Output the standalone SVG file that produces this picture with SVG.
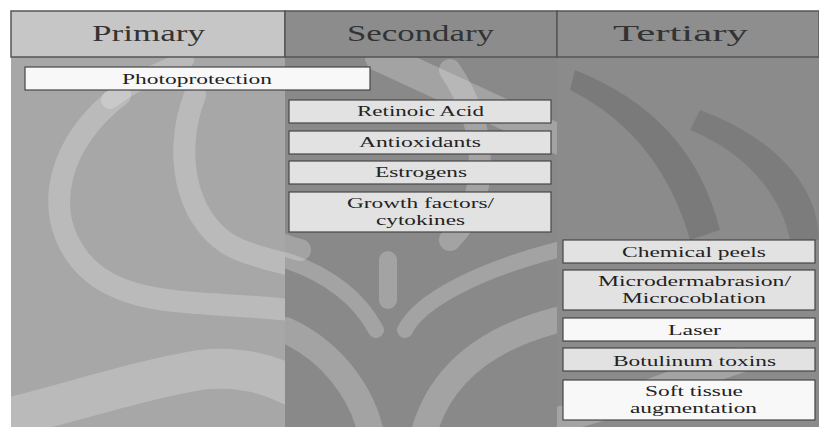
<svg xmlns="http://www.w3.org/2000/svg" width="819" height="429" viewBox="0 0 819 429">
<style>
.hd{font-family:'Liberation Serif','Times New Roman',serif;font-size:23px;fill:#333;text-anchor:middle}
.bx{fill:#e2e2e2;stroke:#474747;stroke-width:1.2}
.bw{fill:#f8f8f8;stroke:#474747;stroke-width:1.2}
.t{font-family:'Liberation Serif','Times New Roman',serif;font-size:15px;fill:#222;text-anchor:middle}
.wm{fill:none;stroke:#ffffff;stroke-opacity:0.22;stroke-linecap:round}
</style>
<defs>
<clipPath id="c1"><rect x="11" y="57" width="274" height="370"/></clipPath>
<clipPath id="c2"><rect x="285" y="57" width="272" height="370"/></clipPath>
<clipPath id="c3"><rect x="557" y="57" width="262" height="370"/></clipPath>
</defs>
<rect width="819" height="429" fill="#ffffff"/>
<g id="columns">
<rect x="11" y="57" width="274" height="370" fill="#a7a7a7"/>
<rect x="285" y="57" width="272" height="370" fill="#898989"/>
<rect x="557" y="57" width="262" height="370" fill="#8b8b8b"/>
</g>
<g id="watermark">
<g clip-path="url(#c1)">
<path class="wm" stroke-width="22" d="M120,95 C60,140 40,210 80,260 C120,310 200,300 290,310"/>
<path class="wm" stroke-width="22" d="M195,95 C170,160 190,230 240,250 C260,258 280,262 290,265"/>
<path class="wm" stroke-width="40" d="M0,420 C80,400 140,380 200,370 C240,365 270,375 290,385"/>
<path class="wm" stroke-width="18" d="M185,60 C150,75 130,85 110,100"/>
</g>
<g clip-path="url(#c2)">
<path class="wm" stroke-width="22" d="M240,100 C200,160 220,230 300,250"/>
<path class="wm" stroke-width="22" d="M450,70 C490,130 490,200 450,240"/>
<path class="wm" stroke-width="16" d="M285,260 C330,275 360,300 376,330"/>
<path class="wm" stroke-width="16" d="M557,250 C480,270 420,300 405,330"/>
<path class="wm" stroke-width="26" d="M285,330 C330,350 360,390 370,429"/>
<path class="wm" stroke-width="26" d="M557,320 C480,340 440,380 425,429"/>
<path class="wm" stroke-width="18" d="M388,260 L388,300"/>
<path class="wm" stroke-width="30" d="M380,57 L560,140"/>
</g>
<g clip-path="url(#c3)">
<path fill="#000" fill-opacity="0.12" d="M575,70 C650,100 700,150 720,230 L690,240 C670,170 630,120 570,90 Z"/>
<path fill="#000" fill-opacity="0.10" d="M700,110 C780,140 819,190 819,240 L790,240 C780,190 740,150 690,130 Z"/>
<path class="wm" stroke-width="26" d="M557,420 C620,405 680,380 740,360"/>
</g>
</g>
<g id="headers">
<rect x="11" y="11" width="274" height="46" fill="#c6c6c6" stroke="#555" stroke-width="1.5"/>
<rect x="285" y="11" width="272" height="46" fill="#8c8c8c" stroke="#555" stroke-width="1.5"/>
<rect x="557" y="11" width="262" height="46" fill="#8e8e8e" stroke="#555" stroke-width="1.5"/>
<text class="hd" x="148.5" y="41" textLength="113" lengthAdjust="spacingAndGlyphs">Primary</text>
<text class="hd" x="420.5" y="41" textLength="147" lengthAdjust="spacingAndGlyphs">Secondary</text>
<text class="hd" x="680.5" y="41" textLength="135" lengthAdjust="spacingAndGlyphs">Tertiary</text>
</g>
<g id="n-photoprotection"><rect class="bw" x="25" y="67" width="345" height="23"/><text class="t" x="197" y="84" textLength="150" lengthAdjust="spacingAndGlyphs">Photoprotection</text></g>
<g id="n-retinoic"><rect class="bx" x="289" y="100" width="262" height="23"/><text class="t" x="420.5" y="116" textLength="127" lengthAdjust="spacingAndGlyphs">Retinoic Acid</text></g>
<g id="n-antioxidants"><rect class="bx" x="289" y="131" width="262" height="23"/><text class="t" x="420" y="147" textLength="122" lengthAdjust="spacingAndGlyphs">Antioxidants</text></g>
<g id="n-estrogens"><rect class="bx" x="289" y="161" width="262" height="23"/><text class="t" x="421" y="177" textLength="92" lengthAdjust="spacingAndGlyphs">Estrogens</text></g>
<g id="n-growth"><rect class="bx" x="289" y="192" width="262" height="40"/><text class="t" x="420.5" y="208" textLength="147" lengthAdjust="spacingAndGlyphs">Growth factors/</text><text class="t" x="420.5" y="225" textLength="89" lengthAdjust="spacingAndGlyphs">cytokines</text></g>
<g id="n-chemical"><rect class="bx" x="563" y="240" width="252" height="23"/><text class="t" x="694" y="257" textLength="144" lengthAdjust="spacingAndGlyphs">Chemical peels</text></g>
<g id="n-micro"><rect class="bx" x="563" y="270" width="252" height="40"/><text class="t" x="694.5" y="286" textLength="193" lengthAdjust="spacingAndGlyphs">Microdermabrasion/</text><text class="t" x="694" y="303" textLength="144" lengthAdjust="spacingAndGlyphs">Microcoblation</text></g>
<g id="n-laser"><rect class="bw" x="563" y="318" width="252" height="23"/><text class="t" x="694.5" y="335" textLength="53" lengthAdjust="spacingAndGlyphs">Laser</text></g>
<g id="n-botulinum"><rect class="bx" x="563" y="348" width="252" height="23"/><text class="t" x="694.5" y="366" textLength="163" lengthAdjust="spacingAndGlyphs">Botulinum toxins</text></g>
<g id="n-soft"><rect class="bw" x="563" y="380" width="252" height="40"/><text class="t" x="694" y="396" textLength="98" lengthAdjust="spacingAndGlyphs">Soft tissue</text><text class="t" x="693.5" y="413" textLength="127" lengthAdjust="spacingAndGlyphs">augmentation</text></g>
<g id="connectors"/>
</svg>
